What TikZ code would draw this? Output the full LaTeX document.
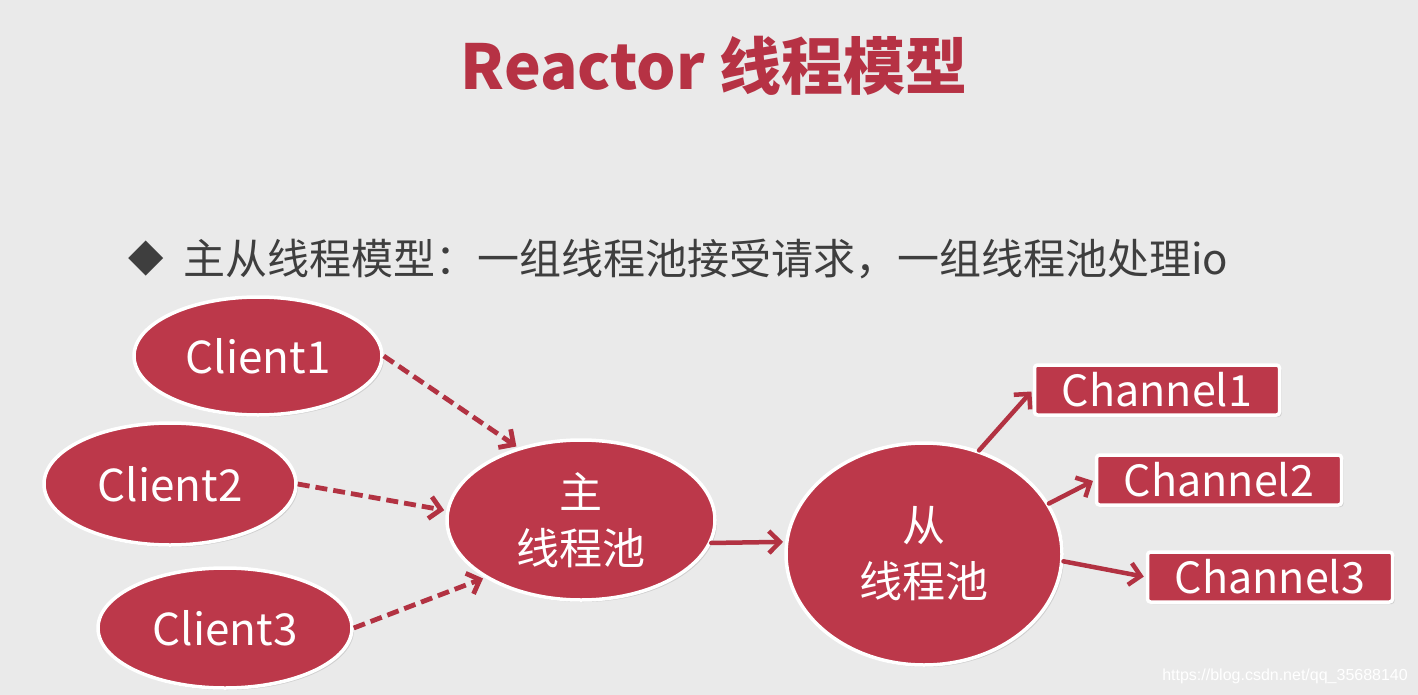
\documentclass[tikz,border=0pt]{standalone}
\usepackage{fontspec}
\setmainfont{Noto Sans CJK SC}
\newfontfamily\symfont{DejaVu Sans}
\newfontfamily\urlfont{Liberation Sans}
\usepackage{xcolor}
\usetikzlibrary{shapes.geometric,arrows.meta,shadows}
\definecolor{bgcol}{RGB}{234,234,234}
\definecolor{redfill}{RGB}{188,56,74}
\definecolor{titlered}{RGB}{182,50,68}
\definecolor{textgray}{RGB}{62,62,62}
\definecolor{arrowred}{RGB}{178,50,66}
\begin{document}
\begin{tikzpicture}[x=1pt,y=-1pt,line cap=round,line join=round,>={Straight Barb[length=11pt,width=22pt]},
	redshape/.style={fill=redfill,draw=white,line width=3.5pt,text=white,inner sep=0pt,
		drop shadow={shadow xshift=2pt,shadow yshift=-2pt,opacity=0.25}},
	clientnode/.style={redshape,ellipse,minimum width=248pt,minimum height=118pt,font=\fontsize{44}{48}\selectfont},
	poolnode/.style={redshape,ellipse,align=center,font=\fontsize{43}{56}\selectfont},
	chanbox/.style={redshape,rectangle,rounded corners=3pt,minimum width=245pt,minimum height=50pt,font=\fontsize{43}{46}\selectfont},
	dasharrow/.style={->,draw=arrowred,line width=4.8pt,line cap=butt,dash pattern=on 12pt off 6pt,shorten >=2pt},
	solidarrow/.style={->,draw=arrowred,line width=4.5pt,shorten >=2pt}]
	\fill[bgcol] (0,0) rectangle (1418,695);
	\useasboundingbox (0,0) rectangle (1418,695);
	\node[text=titlered,font=\fontsize{62}{66}\selectfont\bfseries] (title) at (714,66) {Reactor 线程模型};
	\node[text=textgray,font=\symfont\fontsize{46}{48}\selectfont,inner sep=0pt] (bullet) at (146,259) {◆};
	\node[text=textgray,font=\fontsize{42}{46}\selectfont,anchor=west,inner sep=0pt] (line) at (183,259) {主从线程模型：一组线程池接受请求，一组线程池处理io};
	\node[clientnode] (c1) at (258,356) {Client1};
	\node[clientnode,minimum width=252pt,minimum height=122pt] (c2) at (170,484) {Client2};
	\node[clientnode,minimum width=254pt,minimum height=120pt] (c3) at (225,628) {Client3};
	\node[poolnode,minimum width=268pt,minimum height=160pt] (zhu) at (581,520) {主\\线程池};
	\node[poolnode,minimum width=276pt,minimum height=222pt] (cong) at (924,554) {从\\线程池};
	\node[chanbox] (ch1) at (1157,390) {Channel1};
	\node[chanbox] (ch2) at (1219,480) {Channel2};
	\node[chanbox] (ch3) at (1270,577) {Channel3};
	\draw[dasharrow] (c1.east) -- (zhu.131);
	\draw[dasharrow] (c2.east) -- (zhu.176);
	\draw[dasharrow] (c3.east) -- (zhu.211);
	\draw[solidarrow] (zhu.-10) -- (cong.175);
	\draw[solidarrow] (cong.62) -- (ch1.west);
	\draw[solidarrow] (cong.22) -- (ch2.west);
	\draw[solidarrow] (cong.-3) -- (ch3.west);
	\node[text=white,font=\urlfont\fontsize{16}{18}\selectfont,anchor=east,inner sep=0pt] (url) at (1408,676) {https://blog.csdn.net/qq\_35688140};
\end{tikzpicture}
\end{document}
